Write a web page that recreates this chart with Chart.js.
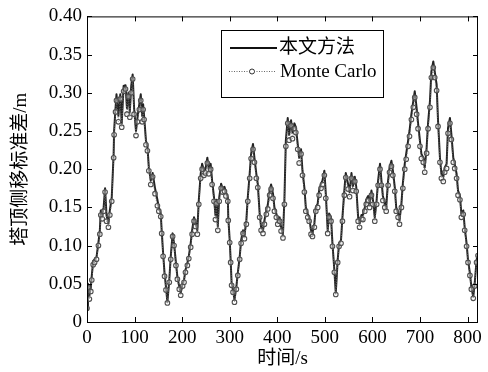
<!DOCTYPE html>
<html>
<head>
<meta charset="utf-8">
<script src="https://cdn.jsdelivr.net/npm/chart.js@4.4.1/dist/chart.umd.min.js"></script>
<style>
    html, body { margin: 0; padding: 0; background: #fff; }
    #wrap { width: 488px; height: 372px; }
</style>
</head>
<body>
<div id="wrap"><canvas id="stdChart" width="488" height="372"></canvas></div>
<script>
// time (s)
const times = [0,2,5,8,10,13,16,20,24,27,29,32,35,38,41,45,48,52,56,57,60,62,66,70,73,77,81,84,87,90,93,96,99,103,106,110,113,116,118,120,124,127,130,134,138,143,148,151,155,157,160,163,166,169,173,176,180,183,187,190,194,197,201,204,207,211,214,218,221,225,228,232,235,239,242,246,249,253,256,260,263,267,270,272,275,278,282,285,289,292,296,297,300,302,304,307,310,314,317,321,324,328,331,335,338,342,345,349,352,356,359,363,366,370,373,377,380,384,387,391,394,398,401,405,408,412,415,418,422,425,429,432,436,439,443,446,450,453,457,460,464,467,471,474,478,481,485,488,492,495,499,502,506,509,513,516,520,523,527,530,534,537,541,544,549,552,556,559,563,566,570,573,577,580,584,587,591,594,598,601,605,609,612,616,619,622,626,629,633,636,640,643,647,650,654,657,661,664,668,671,675,678,682,686,689,693,696,700,703,707,710,714,717,721,724,728,731,735,738,742,745,749,752,756,759,763,766,770,773,777,780,784,787,791,794,798,801,805,808,812,815,819,822];

// 本文方法
const methodValues = [0.016,0.050,0.035,0.045,0.060,0.080,0.082,0.085,0.104,0.120,0.146,0.140,0.150,0.175,0.140,0.129,0.146,0.163,0.220,0.250,0.280,0.298,0.270,0.298,0.260,0.309,0.310,0.280,0.300,0.275,0.309,0.324,0.280,0.250,0.267,0.285,0.298,0.270,0.285,0.270,0.237,0.230,0.202,0.185,0.195,0.175,0.160,0.150,0.142,0.120,0.090,0.064,0.046,0.026,0.055,0.085,0.116,0.103,0.077,0.059,0.046,0.038,0.050,0.055,0.068,0.077,0.086,0.103,0.120,0.137,0.130,0.120,0.159,0.194,0.207,0.198,0.200,0.215,0.200,0.207,0.185,0.163,0.140,0.160,0.125,0.163,0.181,0.175,0.177,0.170,0.163,0.137,0.107,0.081,0.051,0.042,0.029,0.046,0.064,0.085,0.107,0.120,0.113,0.133,0.163,0.194,0.220,0.233,0.215,0.194,0.181,0.142,0.124,0.120,0.133,0.146,0.153,0.172,0.180,0.168,0.150,0.142,0.133,0.137,0.124,0.115,0.159,0.237,0.267,0.245,0.264,0.248,0.260,0.255,0.233,0.215,0.226,0.198,0.176,0.150,0.142,0.137,0.120,0.116,0.129,0.150,0.155,0.172,0.181,0.185,0.198,0.168,0.120,0.142,0.137,0.103,0.068,0.038,0.081,0.103,0.107,0.137,0.172,0.195,0.180,0.170,0.195,0.178,0.190,0.177,0.137,0.129,0.140,0.140,0.150,0.160,0.165,0.155,0.172,0.160,0.137,0.160,0.185,0.207,0.185,0.165,0.155,0.150,0.185,0.202,0.211,0.198,0.177,0.150,0.142,0.133,0.155,0.181,0.207,0.220,0.237,0.250,0.272,0.289,0.302,0.280,0.260,0.237,0.220,0.215,0.202,0.228,0.260,0.289,0.328,0.341,0.328,0.311,0.263,0.215,0.194,0.190,0.202,0.207,0.254,0.267,0.246,0.215,0.207,0.194,0.172,0.165,0.142,0.146,0.124,0.103,0.081,0.064,0.046,0.033,0.050,0.081,0.090];

// Monte Carlo
const monteCarloValues = [0.018,0.045,0.030,0.040,0.055,0.075,0.078,0.082,0.100,0.115,0.140,0.135,0.145,0.170,0.132,0.124,0.140,0.158,0.215,0.245,0.275,0.290,0.262,0.292,0.255,0.302,0.305,0.272,0.295,0.268,0.300,0.318,0.272,0.244,0.262,0.278,0.290,0.262,0.278,0.265,0.232,0.224,0.198,0.180,0.190,0.168,0.152,0.145,0.138,0.116,0.086,0.060,0.042,0.025,0.052,0.082,0.112,0.100,0.074,0.056,0.043,0.035,0.047,0.052,0.065,0.074,0.083,0.098,0.115,0.132,0.125,0.115,0.154,0.188,0.200,0.192,0.195,0.208,0.194,0.200,0.180,0.158,0.134,0.155,0.120,0.158,0.175,0.170,0.171,0.165,0.158,0.133,0.104,0.078,0.048,0.039,0.026,0.043,0.061,0.082,0.103,0.116,0.109,0.128,0.158,0.188,0.214,0.226,0.209,0.188,0.176,0.137,0.120,0.116,0.128,0.141,0.148,0.166,0.174,0.162,0.145,0.137,0.128,0.132,0.119,0.110,0.154,0.230,0.260,0.238,0.257,0.240,0.253,0.248,0.226,0.208,0.220,0.192,0.170,0.145,0.137,0.132,0.115,0.112,0.124,0.145,0.150,0.166,0.175,0.180,0.192,0.162,0.116,0.137,0.132,0.099,0.065,0.036,0.078,0.099,0.103,0.132,0.166,0.189,0.174,0.164,0.188,0.172,0.184,0.171,0.132,0.124,0.135,0.134,0.145,0.154,0.159,0.150,0.166,0.154,0.132,0.154,0.179,0.200,0.179,0.159,0.150,0.145,0.179,0.196,0.204,0.192,0.171,0.145,0.137,0.128,0.150,0.175,0.200,0.213,0.230,0.243,0.265,0.281,0.294,0.272,0.253,0.230,0.214,0.209,0.196,0.221,0.253,0.281,0.320,0.333,0.320,0.303,0.256,0.209,0.188,0.184,0.196,0.201,0.247,0.260,0.239,0.209,0.201,0.188,0.166,0.160,0.137,0.141,0.120,0.099,0.078,0.061,0.043,0.031,0.047,0.078,0.087];

const xTicks = [0, 100, 200, 300, 400, 500, 600, 700, 800];
const yTicks = [0, 0.05, 0.10, 0.15, 0.20, 0.25, 0.30, 0.35, 0.40];
const seriesNames = ['本文方法', 'Monte Carlo'];

const serif = "'Liberation Serif', 'Times New Roman', 'Noto Sans CJK SC', serif";

// box around the plot, inward ticks on all four sides, legend box
const framePlugin = {
    id: 'frame',
    afterDraw(chart) {
        const ctx = chart.ctx;
        const area = chart.chartArea;
        const xs = chart.scales.x;
        const ys = chart.scales.y;
        const tickLen = 5;

        ctx.save();
        ctx.strokeStyle = '#000';
        ctx.lineWidth = 1;
        ctx.strokeRect(area.left + 0.5, area.top + 0.5, area.right - area.left - 1, area.bottom - area.top);

        ctx.beginPath();
        xTicks.forEach(v => {
            const px = Math.round(xs.getPixelForValue(v)) + 0.5;
            ctx.moveTo(px, area.bottom);
            ctx.lineTo(px, area.bottom - tickLen);
            ctx.moveTo(px, area.top);
            ctx.lineTo(px, area.top + tickLen);
        });
        yTicks.forEach(v => {
            const py = Math.round(ys.getPixelForValue(v)) + 0.5;
            ctx.moveTo(area.left, py);
            ctx.lineTo(area.left + tickLen, py);
            ctx.moveTo(area.right, py);
            ctx.lineTo(area.right - tickLen, py);
        });
        ctx.stroke();

        // legend
        const lx = 221, ly = 30, lw = 162, lh = 67;
        ctx.fillStyle = '#fff';
        ctx.fillRect(lx, ly, lw, lh);
        ctx.strokeRect(lx + 0.5, ly + 0.5, lw, lh);

        ctx.beginPath();
        ctx.strokeStyle = '#111';
        ctx.lineWidth = 2;
        ctx.moveTo(lx + 9, ly + 18);
        ctx.lineTo(lx + 56, ly + 18);
        ctx.stroke();

        ctx.beginPath();
        ctx.strokeStyle = '#666';
        ctx.lineWidth = 1;
        ctx.setLineDash([1, 1.5]);
        ctx.moveTo(lx + 8, ly + 41.5);
        ctx.lineTo(lx + 55, ly + 41.5);
        ctx.stroke();
        ctx.setLineDash([]);
        ctx.beginPath();
        ctx.fillStyle = '#fff';
        ctx.strokeStyle = '#333';
        ctx.arc(lx + 31, ly + 41.5, 2.5, 0, Math.PI * 2);
        ctx.fill();
        ctx.stroke();

        ctx.fillStyle = '#000';
        ctx.textBaseline = 'middle';
        ctx.textAlign = 'left';
        ctx.font = "19px " + serif;
        ctx.fillText(seriesNames[0], lx + 58, ly + 18);
        ctx.fillText(seriesNames[1], lx + 59, ly + 42);
        ctx.restore();
    }
};

const toPoints = vals => times.map((t, i) => ({ x: t, y: vals[i] }));

new Chart(document.getElementById('stdChart'), {
    type: 'line',
    data: {
        datasets: [
            {
                label: seriesNames[0],
                data: toPoints(methodValues),
                borderColor: '#222',
                borderWidth: 2,
                borderJoinStyle: 'round',
                pointRadius: 0,
                tension: 0,
                order: 1
            },
            {
                label: seriesNames[1],
                data: toPoints(monteCarloValues),
                borderColor: '#666',
                borderWidth: 1,
                borderDash: [1, 1.5],
                borderJoinStyle: 'round',
                pointRadius: 2.3,
                pointBorderWidth: 1.1,
                pointBorderColor: '#505050',
                pointBackgroundColor: 'rgba(255,255,255,0.4)',
                tension: 0,
                order: 0
            }
        ]
    },
    options: {
        responsive: false,
        animation: false,
        layout: { padding: { top: 15, right: 10, left: 0, bottom: 0 } },
        plugins: {
            legend: { display: false },
            tooltip: { enabled: false }
        },
        scales: {
            x: {
                type: 'linear',
                min: 0,
                max: 822,
                afterBuildTicks: scale => { scale.ticks = xTicks.map(v => ({ value: v })); },
                afterFit: scale => { scale.height = 50; },
                grid: { display: false, drawTicks: false },
                border: { display: false },
                ticks: {
                    color: '#000',
                    padding: 5,
                    maxRotation: 0,
                    font: { family: serif, size: 19 }
                },
                title: {
                    display: true,
                    text: '时间/s',
                    color: '#000',
                    padding: { top: 0, bottom: 2 },
                    font: { family: serif, size: 19 }
                }
            },
            y: {
                min: 0,
                max: 0.4,
                afterBuildTicks: scale => { scale.ticks = yTicks.map(v => ({ value: v })); },
                afterFit: scale => { scale.width = 87; },
                grid: { display: false, drawTicks: false },
                border: { display: false },
                ticks: {
                    color: '#000',
                    padding: 5,
                    font: { family: serif, size: 19 },
                    callback: v => v === 0 ? '0' : v.toFixed(2)
                },
                title: {
                    display: true,
                    text: '塔顶侧移标准差/m',
                    color: '#000',
                    padding: { top: 10, bottom: 0 },
                    font: { family: serif, size: 19 }
                }
            }
        }
    },
    plugins: [framePlugin]
});
</script>
</body>
</html>
